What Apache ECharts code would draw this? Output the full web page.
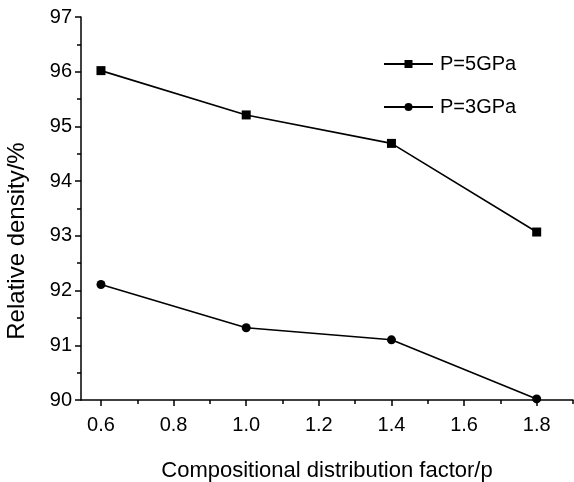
<!DOCTYPE html>
<html>
<head>
<meta charset="utf-8">
<script src="https://cdn.jsdelivr.net/npm/echarts@6/dist/echarts.min.js"></script>
<style>
html,body{margin:0;padding:0;background:#fff;}
#c{width:574px;height:482px;}
</style>
</head>
<body>
<div id="c"></div>
<script>
const factors = [0.6, 1.0, 1.4, 1.8];
const density5GPa = [96.02, 95.21, 94.69, 93.07];
const density3GPa = [92.11, 91.32, 91.10, 90.02];
const xTickLabels = [0.6, 0.8, 1.0, 1.2, 1.4, 1.6, 1.8];
const xMinorTicks = [0.7, 0.9, 1.1, 1.3, 1.5, 1.7, 1.9];
const seriesNames = ['P=5GPa', 'P=3GPa'];
const yTitle = 'Relative density/%';
const xTitle = 'Compositional distribution factor/p';

const font = 'Liberation Sans, Arial, sans-serif';
const pairs = (ys) => factors.map((x, i) => [x, ys[i]]);

const chart = echarts.init(document.getElementById('c'), null, {renderer: 'canvas'});
chart.setOption({
  backgroundColor: '#fff',
  animation: false,
  grid: {left: 81, right: 1, top: 17, bottom: 82, containLabel: false, outerBoundsMode: 'none'},
  legend: {
    orient: 'vertical',
    left: 383,
    top: 54,
    padding: 0,
    itemGap: 23,
    itemWidth: 49,
    itemHeight: 10,
    textStyle: {fontFamily: font, fontSize: 20, color: '#000', padding: [0, 0, 0, 2]},
    data: seriesNames
  },
  graphic: [{
    type: 'text',
    x: 17,
    y: 241,
    rotation: Math.PI / 2,
    style: {text: yTitle, font: '24px ' + font, fill: '#000', align: 'center', verticalAlign: 'middle'}
  }],
  xAxis: [{
    type: 'value',
    min: 0.545,
    max: 1.9,
    name: xTitle,
    nameLocation: 'middle',
    nameGap: 60,
    nameTextStyle: {fontFamily: font, fontSize: 22, color: '#000'},
    axisLine: {show: true, onZero: false, lineStyle: {color: '#000', width: 1.5}},
    axisTick: {show: true, length: 6, inside: false, customValues: xTickLabels, lineStyle: {color: '#000', width: 1.5}},
    axisLabel: {customValues: xTickLabels, margin: 15, fontFamily: font, fontSize: 20, color: '#000',
      formatter: (v) => v.toFixed(1)},
    splitLine: {show: false}
  }, {
    type: 'value',
    min: 0.545,
    max: 1.9,
    position: 'bottom',
    axisLine: {show: false},
    axisTick: {show: true, length: 4, customValues: xMinorTicks, lineStyle: {color: '#000', width: 1.5}},
    axisLabel: {show: false},
    splitLine: {show: false}
  }],
  yAxis: {
    type: 'value',
    min: 90,
    max: 97,
    interval: 1,
    axisLine: {show: true, onZero: false, lineStyle: {color: '#000', width: 1.5}},
    axisTick: {show: true, length: 6, lineStyle: {color: '#000', width: 1.5}},
    minorTick: {show: true, splitNumber: 2, length: 4, lineStyle: {color: '#000', width: 1.5}},
    axisLabel: {margin: 9, fontFamily: font, fontSize: 20, color: '#000'},
    splitLine: {show: false},
    minorSplitLine: {show: false}
  },
  series: [{
    name: seriesNames[0],
    type: 'line',
    data: pairs(density5GPa),
    symbol: 'rect',
    symbolSize: 9,
    lineStyle: {color: '#000', width: 1.6},
    itemStyle: {color: '#000'},
    z: 3
  }, {
    name: seriesNames[1],
    type: 'line',
    data: pairs(density3GPa),
    symbol: 'circle',
    symbolSize: 9,
    lineStyle: {color: '#000', width: 1.6},
    itemStyle: {color: '#000'},
    z: 3
  }]
});
</script>
</body>
</html>
